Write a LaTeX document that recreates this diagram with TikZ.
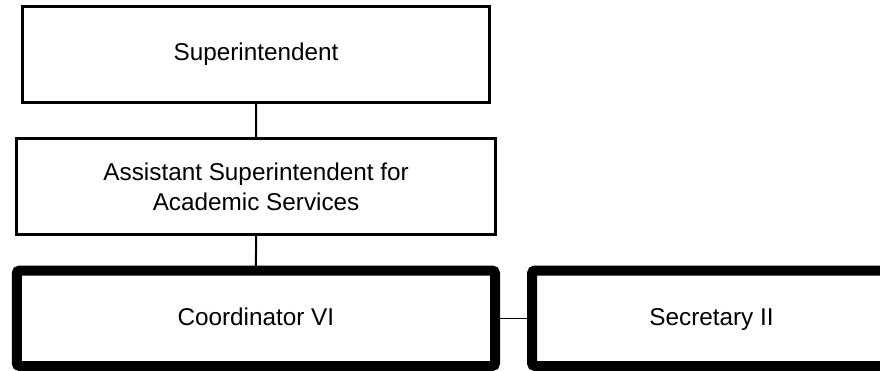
\documentclass[tikz,border=0pt]{standalone}
\usepackage{fontspec}
\setmainfont{Liberation Sans}
\begin{document}
\begin{tikzpicture}[x=1pt,y=-1pt,
  box/.style={draw=black, fill=white, line width=3pt, inner sep=0pt, outer sep=0pt,
    align=center, font=\fontsize{24.3}{30}\selectfont},
  thickbox/.style={box, line width=10pt, rounded corners=3pt, text height=17.5pt, text depth=4pt},
  link/.style={draw=black, line width=2pt}]
\useasboundingbox (0,0) rectangle (880,370);
\clip (0,0) rectangle (880,370);
\fill[white] (0,0) rectangle (880,370);
\node[box, minimum width=467pt, minimum height=96.5pt] (sup) at (256,54.25) {Superintendent};
\node[box, minimum width=479pt, minimum height=96pt] (asst) at (256.1,186.5) {Assistant Superintendent for\\Academic Services};
\node[thickbox, minimum width=478.3pt, minimum height=95.5pt] (coord) at (255.9,318.25) {Coordinator VI};
\node[thickbox, minimum width=359pt, minimum height=95.5pt] (sec) at (711.5,318.25) {Secretary II};
\draw[link] (sup.south) -- (asst.north);
\draw[link] (asst.south) -- (coord.north);
\draw[link, line width=1.5pt] (coord.east) -- (sec.west);
\end{tikzpicture}
\end{document}
